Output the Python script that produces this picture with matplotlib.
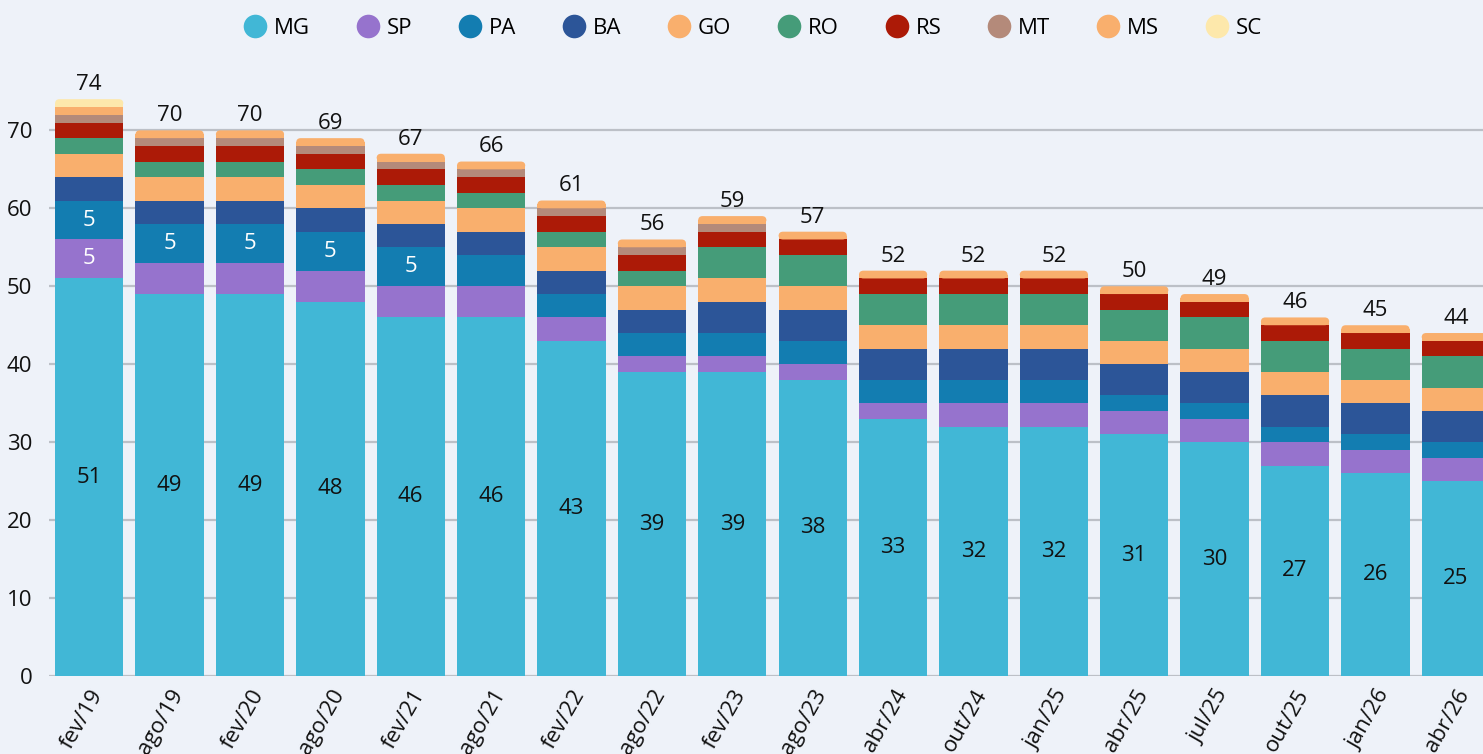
import matplotlib
matplotlib.use("Agg")
import matplotlib.pyplot as plt
from matplotlib.patches import FancyBboxPatch, Rectangle
from matplotlib.lines import Line2D
import numpy as np

plt.rcParams['font.family'] = ['Open Sans', 'DejaVu Sans']

periods = ["fev/19", "ago/19", "fev/20", "ago/20", "fev/21", "ago/21", "fev/22", "ago/22",
           "fev/23", "ago/23", "abr/24", "out/24", "jan/25", "abr/25", "jul/25", "out/25",
           "jan/26", "abr/26"]
states = ["MG", "SP", "PA", "BA", "GO", "RO", "RS", "MT", "MS", "SC"]

mg = [51, 49, 49, 48, 46, 46, 43, 39, 39, 38, 33, 32, 32, 31, 30, 27, 26, 25]
sp = [5, 4, 4, 4, 4, 4, 3, 2, 2, 2, 2, 3, 3, 3, 3, 3, 3, 3]
pa = [5, 5, 5, 5, 5, 4, 3, 3, 3, 3, 3, 3, 3, 2, 2, 2, 2, 2]
ba = [3, 3, 3, 3, 3, 3, 3, 3, 4, 4, 4, 4, 4, 4, 4, 4, 4, 4]
go = [3, 3, 3, 3, 3, 3, 3, 3, 3, 3, 3, 3, 3, 3, 3, 3, 3, 3]
ro = [2, 2, 2, 2, 2, 2, 2, 2, 4, 4, 4, 4, 4, 4, 4, 4, 4, 4]
rs = [2, 2, 2, 2, 2, 2, 2, 2, 2, 2, 2, 2, 2, 2, 2, 2, 2, 2]
mt = [1, 1, 1, 1, 1, 1, 1, 1, 1, 0, 0, 0, 0, 0, 0, 0, 0, 0]
ms = [1, 1, 1, 1, 1, 1, 1, 1, 1, 1, 1, 1, 1, 1, 1, 1, 1, 1]
sc = [1, 0, 0, 0, 0, 0, 0, 0, 0, 0, 0, 0, 0, 0, 0, 0, 0, 0]

colors = ["#41B7D6", "#9673CD", "#137DB1", "#2C5598", "#F9AF6D",
          "#459C79", "#AC1A07", "#B48A7A", "#F9AF6D", "#FDE8AB"]
bg = "#EEF2F9"

series = np.array([mg, sp, pa, ba, go, ro, rs, mt, ms, sc])
totals = series.sum(axis=0)

W, H = 1483, 754
fig = plt.figure(figsize=(W / 100, H / 100), dpi=100, facecolor=bg)
ax_l, ax_r, ax_b, ax_t = 49, 1496, 676, 68
ax = fig.add_axes([ax_l / W, (H - ax_b) / H, (ax_r - ax_l) / W, (ax_b - ax_t) / H])
ax.set_facecolor(bg)

n = len(periods)
x = np.arange(n)
bw = 0.85
ax.set_xlim(-0.5, n - 0.5)
ax.set_ylim(0, 78)

# ratio of pixel sizes so the rounded tops look circular
ppx = (ax_r - ax_l) / n
ppy = (ax_b - ax_t) / 78
aspect = ppx / ppy
r = 4.5 / ppx

for i in range(n):
    bottom = 0
    nz = [k for k in range(len(states)) if series[k, i] > 0]
    top_k = nz[-1]
    for k in nz:
        v = series[k, i]
        if k == top_k:
            p = FancyBboxPatch((x[i] - bw / 2, bottom), bw, v,
                               boxstyle=f"round,pad=0,rounding_size={r}",
                               mutation_aspect=aspect, fc=colors[k], ec="none", zorder=3)
            ax.add_patch(p)
            ax.add_patch(Rectangle((x[i] - bw / 2, bottom), bw, v / 2,
                                   fc=colors[k], ec="none", zorder=3))
        else:
            ax.add_patch(Rectangle((x[i] - bw / 2, bottom), bw, v,
                                   fc=colors[k], ec="none", zorder=3))
        if k == 0:
            ax.text(x[i], bottom + v / 2, str(v), ha="center", va="center",
                    fontsize=16, color="#111111", zorder=5)
        elif k in (1, 2) and v >= 5:
            ax.text(x[i], bottom + v / 2, str(v), ha="center", va="center",
                    fontsize=16, color="white", zorder=5)
        bottom += v
    ax.annotate(str(totals[i]), (x[i], totals[i]), xytext=(0, 3),
                textcoords="offset points", ha="center", va="bottom",
                fontsize=16, color="#111111", zorder=5)

ax.set_yticks(range(0, 71, 10))
ax.yaxis.grid(True, color="#BCC0C7", linewidth=1.6, zorder=0)
ax.set_axisbelow(True)
for s in ax.spines.values():
    s.set_visible(False)
ax.tick_params(axis="both", length=0, labelsize=16, colors="#111111")
ax.tick_params(axis="y", pad=12)
ax.set_xticks(x)
ax.set_xticklabels(periods, rotation=60, ha="right", rotation_mode="anchor")
ax.tick_params(axis="x", pad=7)

handles = [Line2D([], [], marker="o", ls="none", markersize=17,
                  markerfacecolor=c, markeredgecolor="none") for c in colors]
fig.legend(handles, states, loc="center", bbox_to_anchor=(753 / W, 1 - 28 / H),
           ncol=len(states), frameon=False, fontsize=16, handletextpad=0.35,
           columnspacing=2.1, handlelength=1.0)

fig.savefig("out.png", dpi=100, facecolor=bg)
